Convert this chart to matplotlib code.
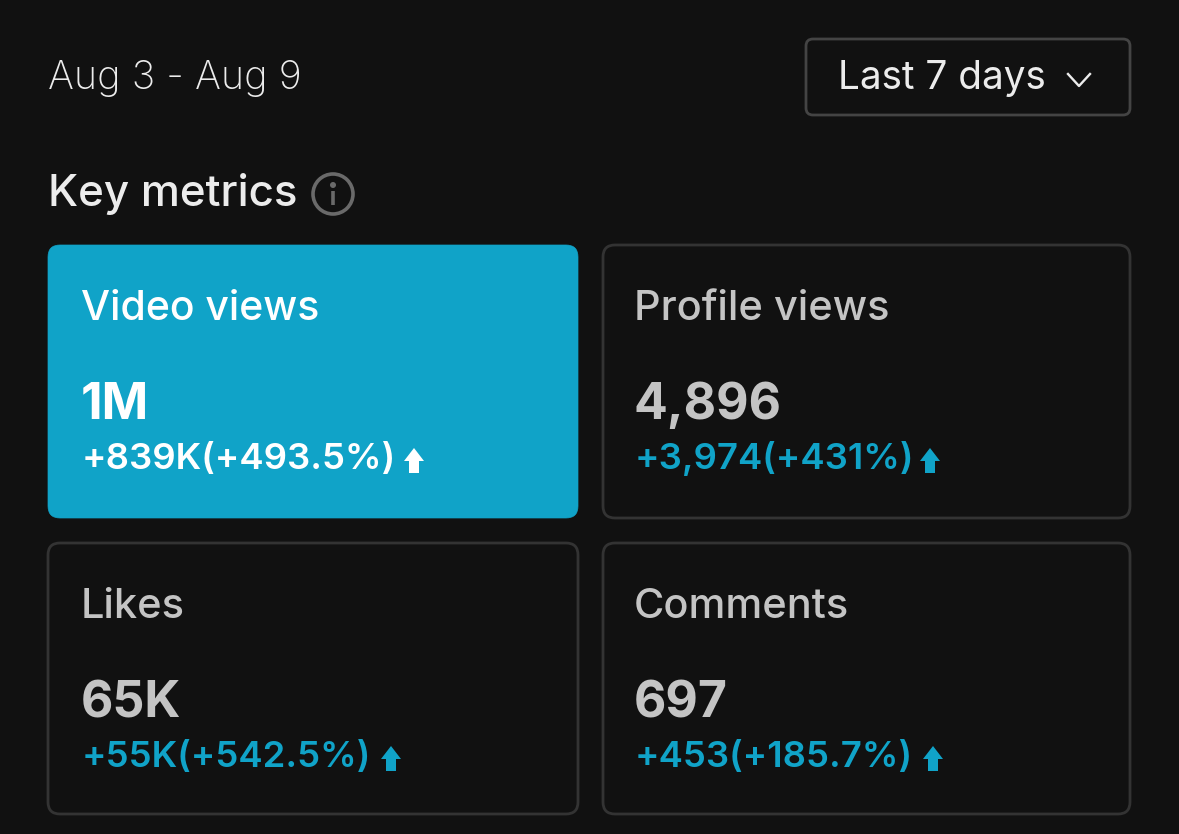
# -*- coding:utf-8 -*-
import matplotlib
matplotlib.use('Agg')
import matplotlib.pyplot as plt
from matplotlib.patches import FancyBboxPatch, Circle, Polygon

plt.rcParams['font.family'] = ['Inter', 'DejaVu Sans']

titles = ['Video views', 'Profile views', 'Likes', 'Comments']
values = ['1M', '4,896', '65K', '697']
changes = ['+839K(+493.5%)', '+3,974(+431%)', '+55K(+542.5%)', '+453(+185.7%)']
arrow_x = [414, 930, 391, 933]

BG = '#111111'
BLUE = '#10a3c8'
BORDER = '#333333'
GREY = '#c4c4c4'
LIGHT = '#ececec'

W, H = 1179, 834
fig = plt.figure(figsize=(W / 100, H / 100), dpi=100, facecolor=BG)
ax = fig.add_axes([0, 0, 1, 1])
ax.set_xlim(0, W)
ax.set_ylim(H, 0)
ax.axis('off')


def px(size):
    # font size given in image pixels
    return size * 0.72


def box(x0, y0, x1, y1, r=12, fc='none', ec=BORDER, lw=2.0):
    p = FancyBboxPatch((x0 + r, y0 + r), x1 - x0 - 2 * r, y1 - y0 - 2 * r,
                       boxstyle='round,pad=%d,rounding_size=%d' % (r, r),
                       fc=fc, ec=ec, lw=lw)
    ax.add_patch(p)


ax.text(48, 89, 'Aug 3 - Aug 9', color=LIGHT, fontsize=px(39.5), fontweight='light', va='baseline')
ax.text(48, 206, 'Key metrics', color=LIGHT, fontsize=px(44), fontweight='medium', va='baseline')

# info icon
ax.add_patch(Circle((333, 194), 20, fc='none', ec='#6a6a6a', lw=2.6))
ax.add_patch(Circle((333, 185), 3, fc='#6a6a6a', ec='none'))
ax.plot([333, 333], [191, 205], color='#6a6a6a', lw=2.6, solid_capstyle='butt')

# dropdown
box(806, 39, 1130, 115, r=7, ec='#444444', lw=2.0)
ax.text(838, 89, 'Last 7 days', color=LIGHT, fontsize=px(38.7), fontweight='normal', va='baseline')
ax.plot([1068, 1079, 1090], [74, 86, 74], color=LIGHT, lw=1.7)

card_x = [(48, 578), (603, 1130), (48, 578), (603, 1130)]
card_y = [(245, 518), (245, 518), (543, 814), (543, 814)]
for i in range(len(titles)):
    x0, x1 = card_x[i]
    y0, y1 = card_y[i]
    active = i == 0
    if active:
        box(x0, y0, x1, y1, r=12, fc=BLUE, ec=BLUE, lw=0.5)
    else:
        box(x0, y0, x1, y1, r=12)
    tx = x0 + 33 if x0 < 100 else x0 + 31
    ax.text(tx, y0 + 75, titles[i], color='white' if active else GREY,
            fontsize=px(41 if active else 41.5), fontweight='medium', va='baseline')
    ax.text(tx, y0 + 174, values[i], color='white' if active else GREY,
            fontsize=px(50), fontweight='bold', va='baseline')
    c = 'white' if active else BLUE
    ax.text(tx + 1, y0 + 224, changes[i], color=c, fontsize=px(36.5),
            fontweight='semibold', va='baseline')
    ax_ = arrow_x[i]
    top = y0 + 203
    ax.add_patch(Polygon([(ax_, top), (ax_ + 10, top + 13), (ax_ + 5, top + 13), (ax_ + 5, top + 25),
                          (ax_ - 5, top + 25), (ax_ - 5, top + 13), (ax_ - 10, top + 13)],
                         closed=True, fc=c, ec='none'))

fig.savefig('out.png', dpi=100, facecolor=BG)
